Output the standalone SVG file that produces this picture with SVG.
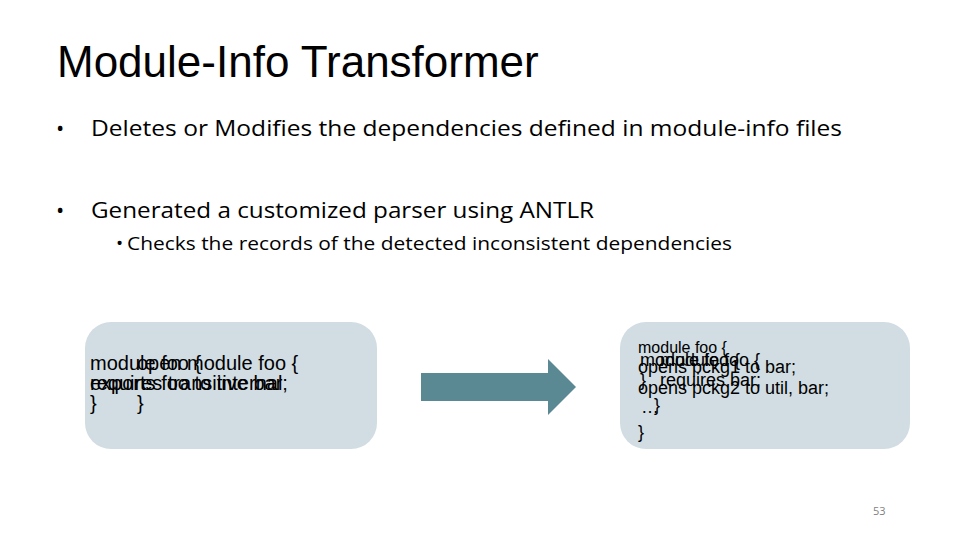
<svg xmlns="http://www.w3.org/2000/svg" width="960" height="540" viewBox="0 0 960 540">
<style>
.title{font-family:"Liberation Sans",Arial,sans-serif;font-size:44px;fill:#000}
.b{font-family:"Open Sans","Noto Sans",sans-serif;font-size:22px;fill:#000}
.s{font-family:"Open Sans","Noto Sans",sans-serif;font-size:19px;fill:#000}
.code{font-family:"Liberation Sans",Arial,sans-serif;font-size:18px;fill:#000}
.lc{font-size:20px}
.sm{font-size:16px}
.box{fill:#d1dde3}
.pg{font-family:"Open Sans","Noto Sans",sans-serif;font-size:11px;fill:#7f7f7f}
</style>
<rect width="960" height="540" fill="#fff"/>
<text class="title" x="57" y="77">Module-Info Transformer</text>
<text class="b" x="56" y="136">•</text>
<text class="b" x="91" y="136" textLength="751" lengthAdjust="spacingAndGlyphs">Deletes or Modifies the dependencies defined in module-info files</text>
<text class="b" x="56" y="218">•</text>
<text class="b" x="91" y="218" textLength="503" lengthAdjust="spacingAndGlyphs">Generated a customized parser using ANTLR</text>
<text class="s" x="116" y="250">•</text>
<text class="s" x="127" y="250" textLength="605" lengthAdjust="spacingAndGlyphs">Checks the records of the detected inconsistent dependencies</text>

<g id="left-box">
<rect class="box" x="85" y="322" width="292" height="127" rx="26"/>
<text class="code lc" x="90" y="370">module foo {</text>
<text class="code lc" x="90" y="390">requires transitive bar;</text>
<text class="code lc" x="90" y="390">exports foo to internal</text>
<text class="code lc" x="90" y="410">}</text>
<text class="code lc" x="137" y="370">open module foo {</text>
<text class="code lc" x="137" y="410">}</text>
</g>

<g id="arrow">
<polygon points="421,373 548,373 548,359 576,387 548,415 548,401 421,401" fill="#5a8994"/>
</g>

<g id="right-box">
<rect class="box" x="620" y="322" width="290" height="127" rx="26"/>
<text class="code sm" x="638" y="353">module foo {</text>
<text class="code" x="638" y="373">opens pckg1 to bar;</text>
<text class="code" x="638" y="394">opens pckg2 to util, bar;</text>
<text class="code" x="641" y="413">…</text>
<text class="code" x="638" y="438">}</text>
<text class="code" x="640" y="366">module foo {</text>
<text class="code" x="660" y="366">module foo {</text>
<text class="code" x="640" y="386">}</text>
<text class="code" x="660" y="386">requires bar;</text>
<text class="code" x="654" y="411">}</text>
</g>

<text class="pg" x="873" y="515">53</text>
</svg>
